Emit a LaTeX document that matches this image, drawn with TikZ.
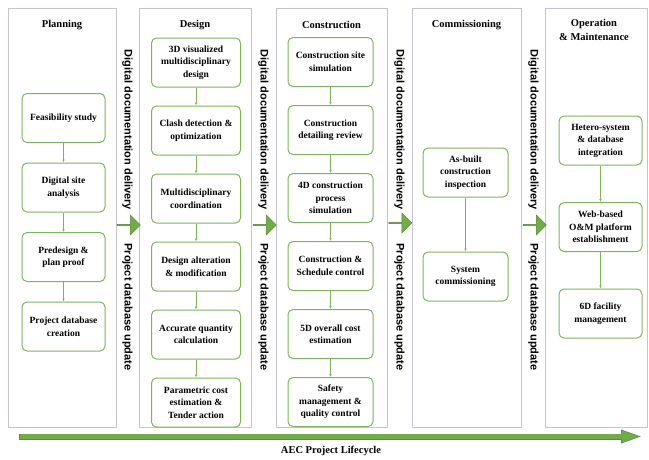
\documentclass[tikz,border=0pt]{standalone}
\usepackage{fontspec}
\setmainfont{Liberation Serif}
\newfontfamily\sidefont{Liberation Sans}
\usepackage{tikz}
\usetikzlibrary{arrows.meta, positioning, shapes.arrows}

\definecolor{boxgreen}{RGB}{125,180,90}
\definecolor{arrgreen}{RGB}{112,173,71}
\definecolor{arredge}{RGB}{84,130,53}
\definecolor{panelgray}{RGB}{196,196,206}
\definecolor{lifeedge}{RGB}{95,130,105}

\begin{document}
\begin{tikzpicture}[
  x=1pt, y=-1pt,
  panel/.style={draw=panelgray, line width=0.9pt, anchor=north west,
                minimum height=419pt, inner sep=0pt},
  title/.style={font=\fontsize{10.5}{14}\selectfont\bfseries, align=center},
  box/.style={draw=boxgreen, line width=1pt, rounded corners=5pt,
              minimum height=49pt, align=center, inner sep=2pt,
              font=\fontsize{9.5}{12.5}\selectfont\bfseries},
  side/.style={rotate=-90, font=\sidefont\fontsize{11}{13}\selectfont\bfseries},
  phase/.style={single arrow, fill=arrgreen, draw=arredge, line width=0.4pt,
                minimum height=23pt, minimum width=20pt,
                single arrow head extend=3pt, inner sep=0pt},
  flow/.style={-{Latex[length=3pt, width=2.5pt]}, draw=boxgreen, line width=0.6pt},
]
  \useasboundingbox (0,0) rectangle (649,459);

  % phase panels
  \node[panel, minimum width=108pt] (plan) at (8,8)   {};
  \node[panel, minimum width=112pt] (des)  at (139,8) {};
  \node[panel, minimum width=111pt] (con)  at (276,8) {};
  \node[panel, minimum width=109pt] (com)  at (412,8) {};
  \node[panel, minimum width=102pt] (om)   at (545,8) {};

  \node[title] (planT) at (62,25)    {Planning};
  \node[title] (desT)  at (195,25)   {Design};
  \node[title] (conT)  at (331.5,25) {Construction};
  \node[title] (comT)  at (466.5,25) {Commissioning};
  \node[title] (omT)   at (594,30)   {Operation\\\& Maintenance};

  % planning
  \node[box, minimum width=83pt]                    (p1) at (63.5,118) {Feasibility study};
  \node[box, minimum width=83pt, below=19.5pt of p1] (p2) {Digital site\\analysis};
  \node[box, minimum width=83pt, below=19.5pt of p2] (p3) {Predesign \&\\plan proof};
  \node[box, minimum width=83pt, below=19.5pt of p3] (p4) {Project database\\creation};

  % design
  \node[box, minimum width=89pt]                  (d1) at (196,62.5) {3D visualized\\multidisciplinary\\design};
  \node[box, minimum width=89pt, below=18pt of d1] (d2) {Clash detection \&\\optimization};
  \node[box, minimum width=89pt, below=18pt of d2] (d3) {Multidisciplinary\\coordination};
  \node[box, minimum width=89pt, below=18pt of d3] (d4) {Design alteration\\\& modification};
  \node[box, minimum width=89pt, below=18pt of d4] (d5) {Accurate quantity\\calculation};
  \node[box, minimum width=89pt, below=18pt of d5] (d6) {Parametric cost\\estimation \&\\Tender action};

  % construction
  \node[box, minimum width=85pt]                  (c1) at (330.5,62) {Construction site\\simulation};
  \node[box, minimum width=85pt, below=18pt of c1] (c2) {Construction\\detailing review};
  \node[box, minimum width=85pt, below=18pt of c2] (c3) {4D construction\\process\\simulation};
  \node[box, minimum width=85pt, below=18pt of c3] (c4) {Construction \&\\Schedule control};
  \node[box, minimum width=85pt, below=18pt of c4] (c5) {5D overall cost\\estimation};
  \node[box, minimum width=85pt, below=18pt of c5] (c6) {Safety\\management \&\\quality control};

  % commissioning
  \node[box, minimum width=85pt]                  (m1) at (465.5,172.5) {As-built\\construction\\inspection};
  \node[box, minimum width=85pt, below=54pt of m1] (m2) {System\\commissioning};

  % operation & maintenance
  \node[box, minimum width=83pt]                    (o1) at (600.5,140.5) {Hetero-system\\\& database\\integration};
  \node[box, minimum width=83pt, below=36.5pt of o1] (o2) {Web-based\\O\&M platform\\establishment};
  \node[box, minimum width=83pt, below=36.5pt of o2] (o3) {6D facility\\management};

  \draw[flow] (p1) -- (p2);
  \draw[flow] (p2) -- (p3);
  \draw[flow] (p3) -- (p4);
  \draw[flow] (d1) -- (d2);
  \draw[flow] (d2) -- (d3);
  \draw[flow] (d3) -- (d4);
  \draw[flow] (d4) -- (d5);
  \draw[flow] (d5) -- (d6);
  \draw[flow] (c1) -- (c2);
  \draw[flow] (c2) -- (c3);
  \draw[flow] (c3) -- (c4);
  \draw[flow] (c4) -- (c5);
  \draw[flow] (c5) -- (c6);
  \draw[flow] (m1) -- (m2);
  \draw[flow] (o1) -- (o2);
  \draw[flow] (o2) -- (o3);

  % hand-over between phases
  \node[side] (dd1) at (127.5,130) {Digital documentation delivery};
  \node[side] (pu1) at (127.5,307) {Project database update};
  \node[side] (dd2) at (263.5,130) {Digital documentation delivery};
  \node[side] (pu2) at (263.5,307) {Project database update};
  \node[side] (dd3) at (399.5,130) {Digital documentation delivery};
  \node[side] (pu3) at (399.5,307) {Project database update};
  \node[side] (dd4) at (533.5,130) {Digital documentation delivery};
  \node[side] (pu4) at (533.5,307) {Project database update};

  \node[phase] (a1) at (128.5,225) {};
  \node[phase] (a2) at (264.5,225) {};
  \node[phase] (a3) at (400,223)   {};
  \node[phase] (a4) at (534.5,225) {};

  % lifecycle
  \coordinate (ls) at (19,436.5);
  \coordinate (le) at (643,436.5);
  \draw[lifeedge, line width=6pt, -{Triangle[length=22pt, width=12pt]}] (ls) -- (le);
  \draw[arrgreen, line width=5pt, -{Triangle[length=20pt, width=10pt]}]
    ([xshift=0.5pt]ls) -- ([xshift=-1.2pt]le);
  \node[title] (lifeT) at (331,451) {AEC Project Lifecycle};
\end{tikzpicture}
\end{document}
